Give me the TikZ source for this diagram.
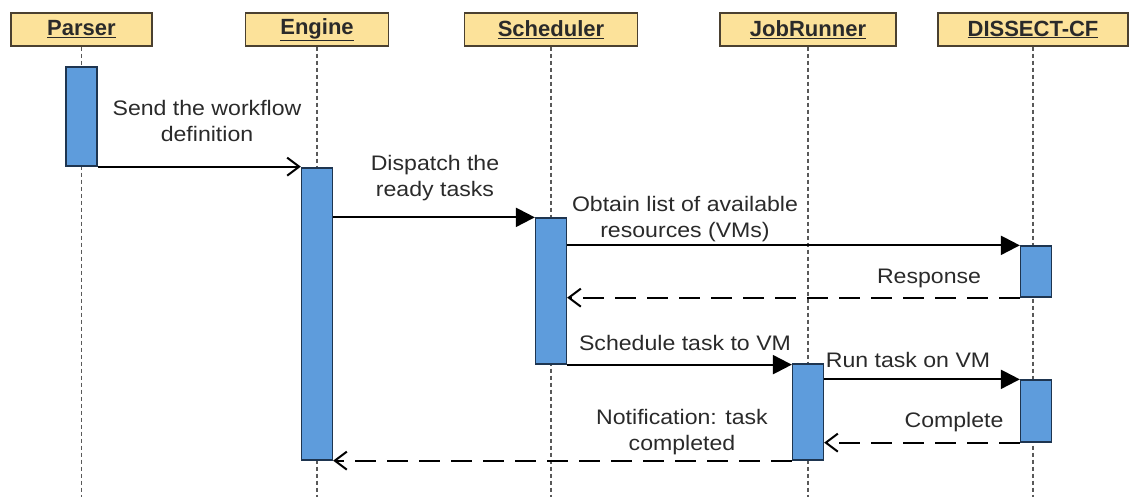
\documentclass[tikz,border=0pt]{standalone}
\usepackage{fontspec}
\setmainfont{Liberation Sans}
\newfontfamily\msgfont[FakeStretch=1.1]{Liberation Sans}
\usetikzlibrary{arrows.meta,calc}
\definecolor{headfill}{HTML}{FCE29A}
\definecolor{headline}{HTML}{4A4030}
\definecolor{actfill}{HTML}{5E9CDC}
\definecolor{actline}{HTML}{1E3550}
\definecolor{txt}{HTML}{2A2A2A}
\tikzset{
  header/.style={draw=headline, line width=1.4pt, fill=headfill, minimum height=33pt,
    inner sep=0pt, font=\fontsize{22}{26}\selectfont\bfseries, text=txt},
  lifeline/.style={draw=black!65, line width=1.3pt, dash pattern=on 4pt off 3pt},
  act/.style={draw=actline, line width=1.3pt, fill=actfill, minimum width=31pt, inner sep=0pt},
  call/.style={line width=2.2pt, -{Triangle[length=19pt,width=19pt]}},
  send/.style={line width=2.2pt, -{Straight Barb[length=12pt,width=18pt,line width=2pt]}},
  reply/.style={line width=2.2pt, dash pattern=on 21pt off 11pt,
    -{Straight Barb[length=12pt,width=18pt,line width=2pt]}},
  msg/.style={font=\msgfont\fontsize{21}{26}\selectfont, text=txt, align=center, inner sep=0pt}
}
\begin{document}
\begin{tikzpicture}[x=1pt,y=-1pt]
\useasboundingbox (0,0) rectangle (1129,497);

% participants
\node[header, minimum width=141pt] (hp) at (81.5,29.5) {\underline{Parser}};
\node[header, minimum width=143pt] (he) at (317,29.5) {\underline{Engine}};
\node[header, minimum width=173pt] (hs) at (551,29.5) {\underline{Scheduler}};
\node[header, minimum width=176pt] (hj) at (808,29.5) {\underline{JobRunner}};
\node[header, minimum width=190pt] (hd) at (1033,29.5) {\underline{DISSECT-CF}};

% lifelines
\foreach \h/\e in {hp/ep, he/ee, hs/es, hj/ej, hd/ed} {
  \coordinate (\e) at (\h.south |- 0,497);
  \draw[lifeline] (\h.south) -- (\e);
}

% activations
\node[act, minimum height=99pt]  (pa) at (81.5,116.5) {};
\node[act, minimum height=292pt] (ea) at (317,314) {};
\node[act, minimum height=146pt] (sa) at (551,291) {};
\node[act, minimum height=51pt]  (d1) at (1036,271.5) {};
\node[act, minimum height=96pt]  (ja) at (808,412) {};
\node[act, minimum height=62pt]  (d2) at (1036,411) {};

% messages
\draw[send]  (pa.south east) -- (pa.south east -| ea.west);
\draw[call]  (ea.east |- sa.north) -- (sa.north west);
\draw[call]  (sa.east |- d1.north) -- (d1.north west);
\draw[reply] (d1.south west) -- (sa.east |- d1.south);
\draw[call]  (sa.south east) -- (sa.south east -| ja.west);
\draw[call]  (ja.east |- d2.north) -- (d2.north west);
\draw[reply] (d2.south west) -- (ja.east |- d2.south);
\draw[reply] (ja.south west) -- (ea.east |- ja.south);

% message labels
\node[msg] (l1) at (207,121) {Send the workflow\\definition};
\node[msg] (l2) at (435,178) {Dispatch the\\ready tasks};
\node[msg] (l3) at (685,219) {Obtain list of available\\resources (VMs)};
\node[msg] (l4) at (929,278) {Response};
\node[msg] (l5) at (685,343) {Schedule task to VM};
\node[msg] (l6) at (908,360) {Run task on VM};
\node[msg] (l7) at (954,422) {Complete};
\node[msg] (l8) at (682,432) {Notification: task\\completed};
\end{tikzpicture}
\end{document}
